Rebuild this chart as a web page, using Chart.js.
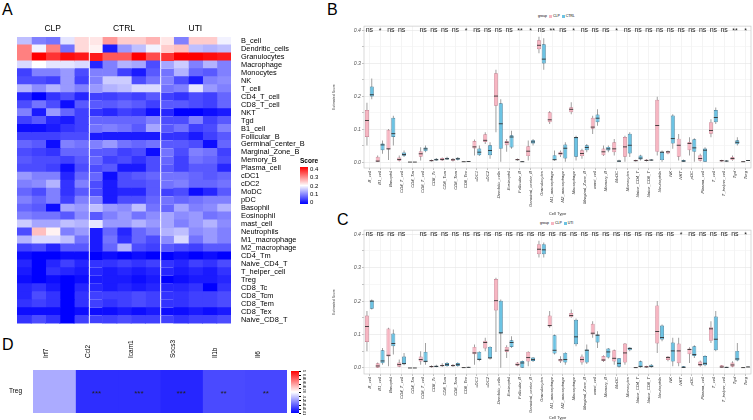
<!DOCTYPE html>
<html>
<head>
<meta charset="utf-8">
<script src="https://cdn.jsdelivr.net/npm/chart.js@4/dist/chart.umd.min.js"></script>
<style>
  body { margin: 0; background: #fff; font-family: "Liberation Sans", Arial, sans-serif; }
  #wrap { position: relative; width: 753px; height: 420px; overflow: hidden; }
  canvas { position: absolute; }
  .tag { position: absolute; font-size: 16px; color: #000; line-height: 1; }
  .txt { position: absolute; color: #000; line-height: 1; white-space: nowrap; }
  .sw { display: inline-block; width: 3px; height: 3px; margin: 0 1px; vertical-align: middle; }
</style>
</head>
<body>
<div id="wrap">
  <div class="tag" style="left:2px;top:2px">A</div>
  <div class="tag" style="left:327px;top:2px">B</div>
  <div class="tag" style="left:337px;top:212px">C</div>
  <div class="tag" style="left:2px;top:337px">D</div>

  <canvas id="heatA" width="330" height="322" style="left:0;top:8px"></canvas>
  <canvas id="boxB" width="423" height="194" style="left:330px;top:22px"></canvas>
  <canvas id="boxC" width="423" height="194" style="left:330px;top:226px"></canvas>
  <canvas id="heatD" width="290" height="90" style="left:0;top:330px"></canvas>

  <!-- Score legend for A -->
  <div class="txt" style="left:300px;top:158px;font-size:6.5px;font-weight:bold">Score</div>
  <div style="position:absolute;left:300px;top:167px;width:8px;height:37px;background:linear-gradient(#ff0000,#ffffff,#0000ff)"></div>
  <div id="scoreLabels"></div>

  <!-- group legends for B and C -->
  <div class="txt" style="left:538px;top:15px;font-size:3.5px">group <span class="sw" style="background:#f7b6c2"></span>CLP <span class="sw" style="background:#6cc3e3"></span>CTRL</div>
  <div class="txt" style="left:540px;top:222px;font-size:3.5px">group <span class="sw" style="background:#f7b6c2"></span>CLP <span class="sw" style="background:#6cc3e3"></span>UTI</div>

  <!-- legend for D -->
  <div style="position:absolute;left:291px;top:371px;width:8px;height:42px;background:linear-gradient(#ff0000,#ffffff,#0000ff)"></div>
  <div id="dLabels"></div>
</div>

<script>
// ---------- panel A: heatmap ----------
const heatRows = ['B_cell','Dendritic_cells','Granulocytes','Macrophage','Monocytes','NK','T_cell','CD4_T_cell','CD8_T_cell','NKT','Tgd','B1_cell','Follicular_B','Germinal_center_B','Marginal_Zone_B','Memory_B','Plasma_cell','cDC1','cDC2','MoDC','pDC','Basophil','Eosinophil','mast_cell','Neutrophils','M1_macrophage','M2_macrophage','CD4_Tm','Naive_CD4_T','T_helper_cell','Treg','CD8_Tc','CD8_Tcm','CD8_Tem','CD8_Tex','Naive_CD8_T'];
const heatGroups = ['CLP', 'CTRL', 'UTI'];
const samplesPerGroup = 5;
// one row per cell type: CLP x5, CTRL x5, UTI x5
const heatScores = [
  [0.15,0.10,0.09,0.18,0.23, 0.22,0.28,0.24,0.24,0.26, 0.22,0.10,0.24,0.24,0.19],
  [0.30,0.19,0.30,0.09,0.23, 0.21,0.02,0.12,0.15,0.19, 0.24,0.25,0.15,0.14,0.15],
  [0.30,0.40,0.36,0.39,0.38, 0.38,0.33,0.33,0.40,0.34, 0.36,0.40,0.40,0.39,0.38],
  [0.17,0.20,0.18,0.18,0.17, 0.03,0.10,0.14,0.13,0.06, 0.13,0.16,0.10,0.14,0.10],
  [0.05,0.10,0.10,0.12,0.06, 0.10,0.10,0.05,0.02,0.07, 0.09,0.14,0.08,0.07,0.10],
  [0.06,0.06,0.05,0.12,0.05, 0.10,0.16,0.16,0.06,0.09, 0.10,0.06,0.02,0.10,0.11],
  [0.14,0.11,0.14,0.12,0.10, 0.12,0.14,0.15,0.17,0.17, 0.09,0.10,0.18,0.12,0.10],
  [0.03,0.00,0.04,0.06,0.03, 0.05,0.05,0.06,0.05,0.07, 0.05,0.04,0.06,0.05,0.08],
  [0.06,0.09,0.06,0.01,0.07, 0.07,0.07,0.08,0.07,0.05, 0.07,0.07,0.06,0.05,0.08],
  [0.10,0.02,0.12,0.08,0.05, 0.04,0.03,0.05,0.04,0.01, 0.03,0.00,0.00,0.01,0.02],
  [0.05,0.07,0.03,0.02,0.05, 0.08,0.08,0.08,0.08,0.10, 0.06,0.06,0.10,0.05,0.07],
  [0.01,0.01,0.02,0.04,0.05, 0.09,0.10,0.09,0.07,0.13, 0.07,0.09,0.05,0.06,0.10],
  [0.05,0.05,0.05,0.06,0.06, 0.02,0.02,0.02,0.02,0.02, 0.04,0.04,0.02,0.05,0.07],
  [0.08,0.07,0.01,0.10,0.09, 0.10,0.12,0.09,0.08,0.09, 0.07,0.07,0.06,0.01,0.08],
  [0.06,0.05,0.04,0.08,0.08, 0.07,0.07,0.05,0.06,0.01, 0.09,0.06,0.10,0.09,0.05],
  [0.07,0.06,0.06,0.05,0.07, 0.08,0.05,0.06,0.04,0.06, 0.08,0.05,0.09,0.08,0.06],
  [0.06,0.06,0.05,0.01,0.06, 0.06,0.07,0.02,0.02,0.06, 0.07,0.05,0.07,0.07,0.03],
  [0.12,0.10,0.10,0.03,0.08, 0.08,0.01,0.06,0.07,0.08, 0.09,0.09,0.08,0.07,0.08],
  [0.10,0.11,0.14,0.04,0.10, 0.06,0.02,0.06,0.06,0.07, 0.09,0.10,0.08,0.08,0.09],
  [0.08,0.06,0.10,0.04,0.07, 0.06,0.02,0.03,0.03,0.07, 0.05,0.06,0.01,0.03,0.07],
  [0.10,0.08,0.10,0.05,0.10, 0.10,0.02,0.06,0.06,0.08, 0.09,0.08,0.09,0.10,0.10],
  [0.08,0.07,0.01,0.13,0.12, 0.15,0.12,0.11,0.15,0.09, 0.08,0.13,0.10,0.11,0.14],
  [0.10,0.09,0.09,0.07,0.11, 0.07,0.10,0.12,0.09,0.11, 0.13,0.11,0.12,0.09,0.10],
  [0.16,0.13,0.13,0.15,0.14, 0.18,0.12,0.12,0.14,0.12, 0.13,0.10,0.12,0.14,0.11],
  [0.06,0.25,0.21,0.10,0.12, 0.02,0.08,0.03,0.08,0.10, 0.14,0.15,0.11,0.12,0.10],
  [0.14,0.17,0.17,0.15,0.09, 0.02,0.09,0.04,0.08,0.06, 0.11,0.17,0.09,0.12,0.10],
  [0.05,0.06,0.03,0.07,0.07, 0.02,0.08,0.14,0.06,0.05, 0.07,0.06,0.05,0.07,0.07],
  [0.01,0.00,0.00,0.01,0.01, 0.00,0.01,0.00,0.01,0.00, 0.00,0.01,0.00,0.01,0.00],
  [0.03,0.00,0.03,0.05,0.03, 0.04,0.04,0.05,0.04,0.05, 0.04,0.03,0.05,0.04,0.06],
  [0.02,0.00,0.04,0.03,0.02, 0.03,0.02,0.03,0.02,0.03, 0.03,0.02,0.03,0.02,0.04],
  [0.01,0.00,0.01,0.00,0.01, 0.02,0.02,0.02,0.01,0.02, 0.00,0.01,0.02,0.02,0.03],
  [0.03,0.04,0.02,0.00,0.03, 0.03,0.02,0.03,0.02,0.03, 0.03,0.03,0.04,0.00,0.04],
  [0.03,0.06,0.04,0.00,0.04, 0.05,0.05,0.05,0.06,0.05, 0.04,0.04,0.05,0.05,0.06],
  [0.04,0.05,0.04,0.00,0.04, 0.05,0.04,0.05,0.06,0.05, 0.04,0.04,0.05,0.05,0.06],
  [0.01,0.01,0.01,0.00,0.01, 0.01,0.01,0.02,0.01,0.02, 0.01,0.01,0.02,0.01,0.02],
  [0.04,0.06,0.04,0.00,0.05, 0.05,0.05,0.06,0.05,0.05, 0.05,0.04,0.05,0.05,0.06]
];
const scoreLegendTicks = [0.4, 0.3, 0.2, 0.1, 0];

// ---------- panels B and C: box plots ----------
const cellTypes = ['B_cell','B1_cell','Basophil','CD4_T_cell','CD4_Tm','CD8_T_cell','CD8_Tc','CD8_Tcm','CD8_Tem','CD8_Tex','cDC1','cDC2','Dendritic_cells','Eosinophil','Follicular_B','Germinal_center_B','Granulocytes','M1_macrophage','M2_macrophage','Macrophage','Marginal_Zone_B','mast_cell','Memory_B','MoDC','Monocytes','Naive_CD4_T','Naive_CD8_T','Neutrophils','NK','NKT','pDC','Plasma_cell','T_cell','T_helper_cell','Tgd','Treg'];
const sigB = ['ns','*','ns','ns','','ns','ns','ns','ns','*','ns','ns','ns','ns','**','*','ns','**','ns','*','ns','ns','ns','*','ns','ns','ns','ns','ns','ns','ns','ns','ns','ns','**','*'];
const sigC = ['ns','ns','ns','ns','','ns','ns','ns','ns','ns','ns','ns','ns','ns','ns','ns','ns','ns','ns','ns','ns','ns','ns','ns','ns','ns','ns','ns','ns','*','ns','ns','ns','ns','ns','*'];
// [min, q1, median, q3, max]
const statsB_CLP = [
  [0.05,0.076,0.126,0.158,0.18],[0,0.001,0.003,0.016,0.02],[0.006,0.038,0.04,0.098,0.1],[0.002,0.004,0.008,0.014,0.02],
  [0,0,0,0,0],[0.005,0.016,0.025,0.033,0.045],[0.002,0.003,0.004,0.006,0.008],[0.003,0.005,0.008,0.012,0.014],
  [0.002,0.004,0.007,0.01,0.012],[0,0.001,0.001,0.002,0.002],[0.02,0.041,0.046,0.064,0.068],[0.055,0.061,0.066,0.084,0.09],
  [0.09,0.171,0.2,0.269,0.28],[0.031,0.051,0.06,0.064,0.07],[0.004,0.006,0.007,0.009,0.011],[0.005,0.018,0.033,0.048,0.065],
  [0.33,0.342,0.354,0.369,0.38],[0.115,0.121,0.128,0.151,0.155],[0.015,0.021,0.026,0.031,0.035],[0.145,0.151,0.16,0.166,0.181],
  [0.01,0.018,0.026,0.036,0.04],[0.085,0.101,0.106,0.134,0.14],[0.018,0.021,0.031,0.041,0.05],[0.02,0.03,0.04,0.06,0.07],
  [0,0.016,0.046,0.076,0.08],[0.002,0.003,0.004,0.006,0.007],[0.002,0.003,0.005,0.008,0.009],[0.02,0.031,0.111,0.189,0.198],
  [0.024,0.026,0.031,0.033,0.035],[0.005,0.016,0.051,0.071,0.085],[0.02,0.036,0.056,0.061,0.075],[0.002,0.004,0.011,0.021,0.025],
  [0.075,0.086,0.096,0.121,0.13],[0.001,0.002,0.004,0.006,0.007],[0.004,0.006,0.011,0.015,0.02],[0,0.0005,0.001,0.0015,0.002]
];
const statsB_CTRL = [
  [0.19,0.199,0.204,0.229,0.253],[0.025,0.036,0.052,0.056,0.065],[0.05,0.076,0.086,0.134,0.14],[0.015,0.019,0.023,0.029,0.035],
  [0,0,0,0,0],[0.03,0.033,0.04,0.044,0.05],[0.004,0.005,0.007,0.01,0.012],[0.006,0.008,0.01,0.013,0.016],
  [0.005,0.007,0.01,0.013,0.015],[0.001,0.0015,0.002,0.003,0.003],[0.018,0.021,0.03,0.041,0.05],[0.01,0.021,0.035,0.051,0.06],
  [0,0.04,0.116,0.178,0.19],[0.04,0.044,0.076,0.081,0.095],[0,0.0005,0.001,0.002,0.003],[0.05,0.056,0.061,0.066,0.07],
  [0.28,0.299,0.312,0.357,0.375],[0.004,0.006,0.007,0.021,0.035],[0,0.011,0.042,0.053,0.06],[0.005,0.016,0.074,0.076,0.08],
  [0.03,0.036,0.044,0.051,0.055],[0.11,0.121,0.133,0.144,0.16],[0.03,0.035,0.04,0.046,0.05],[0,0.001,0.003,0.005,0.007],
  [0.015,0.026,0.051,0.086,0.09],[0.005,0.008,0.012,0.02,0.022],[0.004,0.005,0.006,0.008,0.009],[0,0.006,0.03,0.031,0.035],
  [0.04,0.056,0.071,0.141,0.145],[0,0.001,0.003,0.006,0.008],[0,0.031,0.043,0.069,0.072],[0,0.001,0.036,0.041,0.045],
  [0.115,0.121,0.135,0.158,0.165],[0.001,0.002,0.003,0.005,0.006],[0.05,0.054,0.06,0.066,0.075],[0.003,0.004,0.005,0.006,0.006]
];
const statsC_CLP = [
  [0.05,0.078,0.124,0.157,0.17],[0,0.001,0.006,0.014,0.016],[0.005,0.034,0.038,0.118,0.12],[0.002,0.004,0.01,0.016,0.025],
  [0,0,0,0,0],[0.01,0.019,0.025,0.034,0.05],[0.001,0.002,0.004,0.006,0.008],[0.003,0.005,0.007,0.01,0.014],
  [0.003,0.005,0.007,0.01,0.012],[0,0.0005,0.001,0.0015,0.002],[0.01,0.041,0.045,0.063,0.07],[0.05,0.058,0.076,0.081,0.09],
  [0.048,0.172,0.201,0.266,0.27],[0.03,0.048,0.053,0.063,0.068],[0.005,0.007,0.01,0.016,0.018],[0.005,0.019,0.031,0.048,0.05],
  [0.33,0.34,0.355,0.37,0.38],[0.12,0.124,0.127,0.157,0.17],[0.015,0.019,0.024,0.027,0.035],[0.15,0.152,0.157,0.164,0.175],
  [0.01,0.016,0.025,0.034,0.04],[0.09,0.1,0.104,0.132,0.14],[0.018,0.021,0.024,0.036,0.038],[0.01,0.019,0.029,0.053,0.055],
  [0.01,0.016,0.045,0.073,0.075],[0,0,0.001,0.002,0.003],[0.001,0.002,0.003,0.006,0.007],[0.045,0.073,0.109,0.187,0.2],
  [0.02,0.024,0.031,0.034,0.036],[0.005,0.014,0.051,0.073,0.09],[0.015,0.041,0.055,0.058,0.062],[0.004,0.007,0.01,0.019,0.022],
  [0.075,0.081,0.117,0.122,0.14],[0,0,0.003,0.008,0.009],[0.002,0.004,0.009,0.016,0.02],[0,0.0005,0.001,0.0015,0.002]
];
const statsC_UTI = [
  [0.175,0.177,0.2,0.201,0.205],[0.01,0.014,0.021,0.053,0.06],[0.04,0.065,0.073,0.103,0.115],[0.008,0.011,0.013,0.034,0.045],
  [0,0,0,0,0],[0.01,0.017,0.02,0.048,0.075],[0.002,0.003,0.005,0.007,0.01],[0.004,0.006,0.01,0.015,0.018],
  [0.004,0.006,0.01,0.015,0.017],[0.001,0.0015,0.002,0.003,0.004],[0.02,0.024,0.026,0.048,0.05],[0.025,0.029,0.03,0.063,0.065],
  [0,0.103,0.105,0.201,0.205],[0.06,0.063,0.076,0.083,0.095],[0,0,0.015,0.021,0.022],[0.018,0.021,0.025,0.031,0.033],
  [0.33,0.34,0.353,0.37,0.375],[0.04,0.043,0.053,0.098,0.1],[0.01,0.016,0.025,0.045,0.047],[0.065,0.071,0.093,0.144,0.148],
  [0.012,0.016,0.053,0.055,0.07],[0.06,0.076,0.098,0.1,0.11],[0.028,0.031,0.048,0.058,0.06],[0,0.004,0.014,0.029,0.03],
  [0.05,0.053,0.058,0.061,0.062],[0.001,0.002,0.005,0.02,0.022],[0.001,0.002,0.005,0.01,0.012],[0.08,0.085,0.091,0.127,0.13],
  [0.005,0.019,0.051,0.076,0.09],[0,0.001,0.002,0.005,0.006],[0.03,0.036,0.04,0.065,0.068],[0.005,0.008,0.014,0.036,0.038],
  [0.05,0.053,0.086,0.154,0.17],[0,0.001,0.002,0.003,0.004],[0.02,0.022,0.027,0.051,0.075],[0.002,0.003,0.003,0.004,0.005]
];
const scoreTicks = [0, 0.05, 0.1, 0.15, 0.2, 0.25, 0.3, 0.35, 0.4];

// ---------- panel D ----------
const dGenes = ['Irf7', 'Ccl2', 'Icam1', 'Socs3', 'Il1b', 'Il6'];
const dValues = [-0.33, -0.82, -0.82, -0.85, -0.71, -0.72];
const dStars = ['', '***', '***', '***', '**', '**'];
const dLegendTicks = [1, 0.8, 0.6, 0.4, 0.2, 0, -0.2, -0.4, -0.6, -0.8, -1];

const FONT = '"Liberation Sans", Arial, sans-serif';
Chart.defaults.font.family = FONT;
Chart.defaults.animation = false;
Chart.defaults.events = [];
Chart.defaults.plugins.legend.display = false;
Chart.defaults.plugins.tooltip.enabled = false;

function scoreColor(v) {
  if (v <= 0.2) {
    const t = Math.round(255 * v / 0.2);
    return `rgb(${t},${t},255)`;
  }
  const t = Math.round(255 * (0.4 - v) / 0.2);
  return `rgb(255,${t},${t})`;
}
function corrColor(v) {
  if (v <= 0) {
    const t = Math.round(255 * (1 + v));
    return `rgb(${t},${t},255)`;
  }
  const t = Math.round(255 * (1 - v));
  return `rgb(255,${t},${t})`;
}

// ---- A ----
const heatDatasets = [];
for (let c = 0; c < heatGroups.length * samplesPerGroup; c++) {
  const sep = c > 0 && c % samplesPerGroup === 0;
  heatDatasets.push({
    data: heatRows.map(() => 1),
    backgroundColor: heatRows.map((r, i) => scoreColor(heatScores[i][c])),
    borderColor: '#ffffff',
    borderWidth: sep ? { left: 2, right: 0, top: 0, bottom: 0 } : 0,
    borderSkipped: false,
    inflateAmount: 0.5,
    barPercentage: 1,
    categoryPercentage: 1
  });
}
new Chart(document.getElementById('heatA'), {
  type: 'bar',
  data: { labels: heatRows, datasets: heatDatasets },
  options: {
    responsive: false,
    indexAxis: 'y',
    layout: { padding: { left: 17, right: 0, top: 0, bottom: 3 } },
    scales: {
      x: {
        type: 'linear', stacked: true, position: 'top', min: 0, max: heatGroups.length * samplesPerGroup,
        grid: { display: false, drawTicks: false }, border: { display: false },
        afterBuildTicks: axis => { axis.ticks = heatGroups.map((g, i) => ({ value: i * samplesPerGroup + samplesPerGroup / 2 })); },
        afterFit: axis => { axis.height = 29; },
        ticks: { callback: (v, i) => heatGroups[i], color: '#000', font: { size: 8.5 }, padding: 3, maxRotation: 0 }
      },
      y: {
        stacked: true, position: 'right',
        grid: { display: false }, border: { display: false },
        afterFit: axis => { axis.width = 99; },
        ticks: { color: '#000', font: { size: 7.4 }, padding: 2, autoSkip: false }
      }
    }
  }
});

const scoreLabels = document.getElementById('scoreLabels');
scoreLegendTicks.forEach((v, i) => {
  const d = document.createElement('div');
  d.className = 'txt';
  d.style.cssText = `left:310px;top:${166 + i * 8.3}px;font-size:6px`;
  d.textContent = String(v);
  scoreLabels.appendChild(d);
});

// ---- B and C ----
const panelBorder = {
  id: 'panelBorder',
  afterDraw(chart) {
    const { ctx, chartArea: a } = chart;
    ctx.save();
    ctx.strokeStyle = '#c8c8c8';
    ctx.lineWidth = 0.7;
    ctx.strokeRect(a.left, a.top, a.right - a.left, a.bottom - a.top);
    ctx.restore();
  }
};
const sigLabels = {
  id: 'sigLabels',
  afterDatasetsDraw(chart, args, opts) {
    const { ctx, scales: { x, y } } = chart;
    ctx.save();
    ctx.fillStyle = '#222';
    ctx.font = `7px ${FONT}`;
    ctx.textAlign = 'center';
    ctx.textBaseline = 'middle';
    opts.labels.forEach((s, i) => {
      ctx.fillText(s, x.getPixelForValue(i), y.getPixelForValue(0.4) + (s.startsWith('*') ? 1 : 0));
    });
    ctx.restore();
  }
};

function boxSets(stats, stack, fill, line) {
  const common = { stack, barPercentage: 0.82, categoryPercentage: 0.9, borderSkipped: false };
  return [
    Object.assign({ data: stats.map(s => [s[2] - 0.0013, s[2] + 0.0013]), order: 0, backgroundColor: '#2b2b2b' }, common),
    Object.assign({ data: stats.map(s => [s[1], s[3]]), order: 1, backgroundColor: fill, borderColor: line, borderWidth: 0.7 }, common),
    Object.assign({ data: stats.map(s => [s[0], s[4]]), order: 2, backgroundColor: '#8a8a8a', maxBarThickness: 0.8 }, common)
  ];
}

function boxChart(id, clpStats, otherStats, sig, xAxisHeight) {
  new Chart(document.getElementById(id), {
    type: 'bar',
    data: {
      labels: cellTypes,
      datasets: [
        ...boxSets(clpStats, 'clp', '#f7b6c2', '#c47a8c'),
        ...boxSets(otherStats, 'other', '#6cc3e3', '#2f6f8f')
      ]
    },
    options: {
      responsive: false,
      layout: { padding: { left: 0, right: 2, top: 3, bottom: 0 } },
      plugins: { sigLabels: { labels: sig } },
      scales: {
        x: {
          grid: { offset: false, color: '#ededed', lineWidth: 0.6, tickLength: 2, tickColor: '#999' },
          border: { display: false },
          afterFit: axis => { axis.height = xAxisHeight; },
          ticks: { autoSkip: false, minRotation: 90, maxRotation: 90, color: '#333', font: { size: 4.2, style: 'italic' }, padding: 1 },
          title: { display: true, text: 'Cell Type', color: '#333', font: { size: 4.2 }, padding: 0 }
        },
        y: {
          stacked: false, min: -0.018, max: 0.412,
          grid: {
            color: ctx => (ctx.tick && Math.round(ctx.tick.value * 100) % 10 === 0) ? '#e4e4e4' : '#f2f2f2',
            lineWidth: 0.6, tickLength: 2, tickColor: '#999'
          },
          border: { display: false },
          afterBuildTicks: axis => { axis.ticks = scoreTicks.map(v => ({ value: v })); },
          afterFit: axis => { axis.width = 34; },
          ticks: {
            color: '#555', font: { size: 5.2, style: 'italic' }, padding: 1,
            callback: v => (Math.round(v * 100) % 10 === 0) ? v.toFixed(1) : ''
          },
          title: { display: true, text: 'Estimated Score', color: '#444', font: { size: 3.5 }, padding: 2 }
        }
      }
    },
    plugins: [panelBorder, sigLabels]
  });
}
boxChart('boxB', statsB_CLP, statsB_CTRL, sigB, 48);
boxChart('boxC', statsC_CLP, statsC_UTI, sigC, 46);

// ---- D ----
const starLabels = {
  id: 'starLabels',
  afterDatasetsDraw(chart) {
    const { ctx, scales: { x, y } } = chart;
    ctx.save();
    ctx.fillStyle = '#222';
    ctx.font = `8px ${FONT}`;
    ctx.textAlign = 'center';
    ctx.textBaseline = 'middle';
    dStars.forEach((s, i) => ctx.fillText(s, x.getPixelForValue(i + 0.5), y.getPixelForValue(0) + 2));
    ctx.restore();
  }
};
new Chart(document.getElementById('heatD'), {
  type: 'bar',
  data: {
    labels: ['Treg'],
    datasets: dGenes.map((g, i) => ({
      label: g, data: [1], backgroundColor: corrColor(dValues[i]),
      borderWidth: 0, barPercentage: 1, categoryPercentage: 1, inflateAmount: 0.5
    }))
  },
  options: {
    responsive: false,
    indexAxis: 'y',
    layout: { padding: { left: 0, right: 3, top: 0, bottom: 7 } },
    scales: {
      x: {
        type: 'linear', stacked: true, position: 'top', min: 0, max: dGenes.length,
        grid: { display: false }, border: { display: false },
        afterBuildTicks: axis => { axis.ticks = dGenes.map((g, i) => ({ value: i + 0.5 })); },
        afterFit: axis => { axis.height = 40; },
        ticks: { callback: (v, i) => dGenes[i], minRotation: 90, maxRotation: 90, color: '#000', font: { size: 6.5 }, padding: 4 }
      },
      y: {
        stacked: true,
        grid: { display: false }, border: { display: false },
        afterFit: axis => { axis.width = 33; },
        ticks: { color: '#000', font: { size: 6.5 }, padding: 3 }
      }
    }
  },
  plugins: [starLabels]
});

const dLabels = document.getElementById('dLabels');
dLegendTicks.forEach((v, i) => {
  const y = 371 + i * 4.2;
  const t = document.createElement('div');
  t.style.cssText = `position:absolute;left:299px;top:${y}px;width:2px;height:0.6px;background:#000`;
  dLabels.appendChild(t);
  const d = document.createElement('div');
  d.className = 'txt';
  d.style.cssText = `left:302px;top:${y - 1.5}px;font-size:3.4px;transform:rotate(90deg);transform-origin:left top;margin-left:3px`;
  d.textContent = String(v);
  dLabels.appendChild(d);
});
</script>
</body>
</html>
